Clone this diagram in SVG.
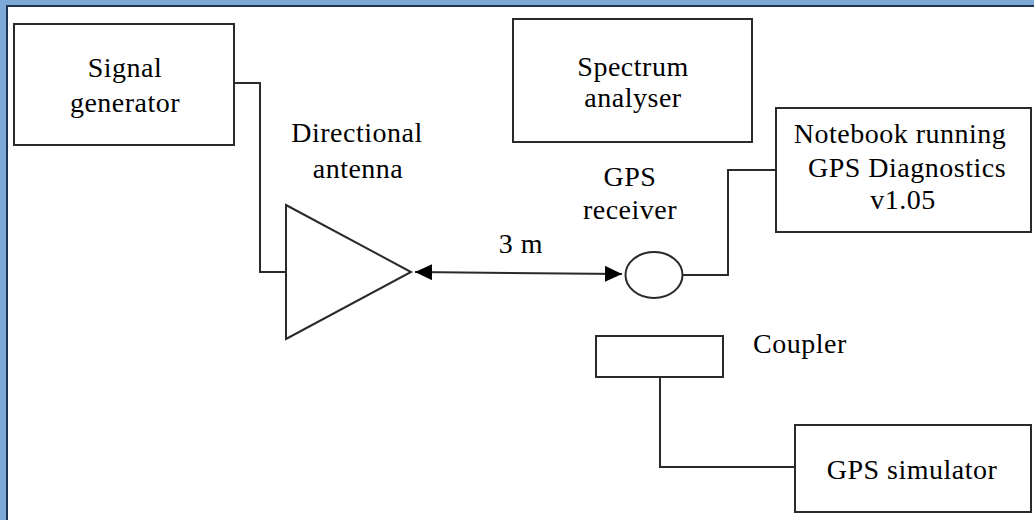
<svg xmlns="http://www.w3.org/2000/svg" width="1034" height="520" viewBox="0 0 1034 520">
<style>
.box{fill:#fff;stroke:#2a2a2a;stroke-width:2}
.wire{fill:none;stroke:#2a2a2a;stroke-width:2}
text{font-family:"Liberation Serif","Times New Roman",serif;font-size:28px;fill:#000;letter-spacing:0.5px}
.c{text-anchor:middle}
</style>
<defs>
<marker id="ah" markerUnits="userSpaceOnUse" markerWidth="18" markerHeight="16" viewBox="0 0 18 16" refX="17" refY="8" orient="auto-start-reverse">
<path d="M0,0 L17,8 L0,16 Z" fill="#000"/>
</marker>
</defs>
<rect x="0" y="0" width="1034" height="520" fill="#fff"/>
<rect x="0" y="0" width="1034" height="5" fill="#7ea8d6"/>
<rect x="0" y="0" width="6" height="520" fill="#7ea8d6"/>
<rect x="6" y="5" width="1028" height="2" fill="#1d3654"/>
<rect x="6" y="5" width="2" height="515" fill="#1d3654"/>

<g id="connectors">
<path class="wire" d="M234,83 H260 V272 H286"/>
<path class="wire" d="M683,275 H728 V170 H776"/>
<path class="wire" d="M660,377 V467 H795"/>
<line class="wire" x1="415" y1="272" x2="622" y2="274" marker-start="url(#ah)" marker-end="url(#ah)"/>
<text class="c" x="521" y="253">3 m</text>
</g>

<g id="signal-generator">
<rect class="box" x="14" y="24" width="220" height="121"/>
<text class="c" x="125" y="77">Signal</text>
<text class="c" x="125" y="112">generator</text>
</g>

<g id="spectrum-analyser">
<rect class="box" x="513" y="19" width="239" height="123"/>
<text class="c" x="633" y="76">Spectrum</text>
<text class="c" x="633" y="107">analyser</text>
</g>

<g id="directional-antenna">
<polygon class="box" points="286,205 411,272 286,339"/>
<text class="c" x="357" y="142">Directional</text>
<text class="c" x="358" y="178">antenna</text>
</g>

<g id="gps-receiver">
<ellipse class="box" cx="654" cy="275" rx="28.5" ry="23"/>
<text class="c" x="630" y="186">GPS</text>
<text class="c" x="630" y="219">receiver</text>
</g>

<g id="notebook">
<rect class="box" x="776" y="108" width="255" height="124"/>
<text class="c" x="900" y="143">Notebook running</text>
<text class="c" x="907" y="177">GPS Diagnostics</text>
<text class="c" x="903" y="209">v1.05</text>
</g>

<g id="coupler">
<rect class="box" x="596" y="336" width="127" height="41"/>
<text x="753" y="353">Coupler</text>
</g>

<g id="gps-simulator">
<rect class="box" x="795" y="425" width="236" height="87"/>
<text class="c" x="912" y="479">GPS simulator</text>
</g>
</svg>
